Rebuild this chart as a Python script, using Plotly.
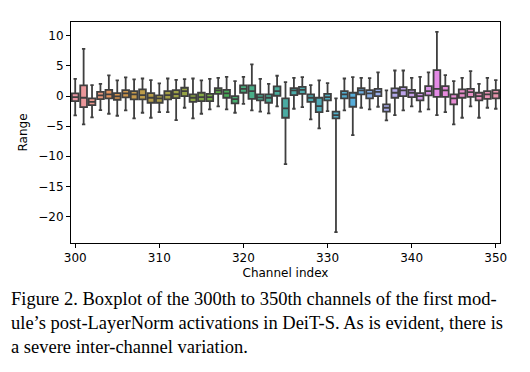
import math
import colorsys
import plotly.graph_objects as go

# ---------------- data ----------------
channels = list(range(300, 351))
upper_whisker = [2.87, 7.84, 1.82, 2.04, 3.42, 2.59, 3.09, 2.76, 2.92, 2.65,
                 2.10, 2.92, 2.70, 2.81, 2.92, 2.59, 2.87, 3.03, 3.20, 2.48,
                 3.20, 5.25, 2.87, 2.04, 3.37, 2.32, 3.03, 3.15, 1.82, 2.59,
                 2.15, -0.39, 2.92, 3.15, 3.03, 2.98, 3.92, 0.93, 4.25, 4.25,
                 3.03, 3.20, 3.92, 10.66, 3.48, 2.48, 3.03, 4.14, 2.04, 3.03,
                 2.65]
q3 = [0.44, 1.76, -0.39, 0.71, 1.04, 0.49, 0.99, 0.82, 1.10, 0.49,
      0.10, 0.82, 0.99, 1.38, 0.27, 0.55, 0.38, 1.32, 1.04, 0.00,
      1.76, 1.76, 0.27, 0.27, 1.60, -0.39, 1.32, 1.54, 0.27, -0.28,
      0.38, -2.60, 0.82, 0.55, 1.32, 0.99, 1.21, -1.39, 1.27, 1.49,
      1.04, 0.49, 1.65, 4.31, 1.65, 0.27, 1.10, 1.21, 0.55, 0.82,
      0.99]
median = [-0.17, -0.28, -0.95, 0.10, 0.27, -0.06, 0.44, 0.27, 0.16, -0.28,
          -0.39, 0.16, 0.33, 0.82, -0.28, -0.17, -0.17, 0.93, 0.44, -0.50,
          1.21, 0.82, -0.23, -0.28, 0.82, -2.05, 0.93, 1.04, -0.28, -1.66,
          -0.17, -3.16, 0.27, -0.28, 0.93, 0.44, 0.71, -1.94, 0.55, 0.93,
          0.55, 0.00, 0.82, 1.20, 0.93, -0.39, 0.44, 0.66, 0.00, 0.27,
          0.44]
q1 = [-0.83, -1.83, -1.50, -0.50, -0.39, -0.61, -0.23, -0.56, -0.56, -1.11,
      -1.11, -0.56, -0.34, 0.00, -0.95, -0.83, -0.83, 0.38, -0.28, -1.22,
      0.55, -0.45, -0.72, -1.11, 0.05, -3.60, 0.16, 0.38, -0.95, -2.66,
      -0.72, -3.71, -0.39, -1.77, 0.27, -0.39, 0.00, -2.60, -0.28, 0.00,
      -0.17, -0.72, 0.11, -0.12, -0.12, -1.39, -0.28, -0.12, -0.72, -0.45,
      -0.39]
lower_whisker = [-3.21, -4.70, -3.54, -2.33, -2.94, -3.27, -2.38, -3.71, -2.77, -3.60,
                 -2.66, -2.66, -3.99, -1.94, -3.71, -2.94, -2.22, -1.72, -2.22, -2.77,
                 -1.28, -2.38, -2.60, -2.88, -1.72, -11.3, -2.11, -1.83, -3.88, -5.37,
                 -2.49, -22.6, -2.38, -6.47, -1.94, -2.22, -1.77, -4.04, -3.16, -2.38,
                 -1.72, -2.60, -2.22, -3.16, -2.66, -4.70, -3.60, -1.72, -3.60, -1.94,
                 -2.11]
x_ticks = [300, 310, 320, 330, 340, 350]
y_ticks = [10, 5, 0, -5, -10, -15, -20]
caption_lines = [
    "Figure 2. Boxplot of the 300th to 350th channels of the first mod-",
    "ule\u2019s post-LayerNorm activations in DeiT-S. As is evident, there is",
    "a severe inter-channel variation.",
]

# ---------------- husl palette (as seaborn) ----------------
_m = [[3.2406, -1.5372, -0.4986], [-0.9689, 1.8758, 0.0415], [0.0557, -0.2040, 1.0570]]
refY, refU, refV = 1.0, 0.19784, 0.46834
lab_e, lab_k = 0.008856, 903.3


def _max_chroma(L, H):
    hrad = math.radians(H)
    sinH, cosH = math.sin(hrad), math.cos(hrad)
    sub1 = (L + 16) ** 3 / 1560896.0
    sub2 = sub1 if sub1 > lab_e else L / lab_k
    result = float("inf")
    for m1, m2, m3 in _m:
        top = (0.99915 * m1 + 1.05122 * m2 + 1.14460 * m3) * sub2
        rbottom = 0.86330 * m3 - 0.17266 * m2
        lbottom = 0.12949 * m3 - 0.38848 * m1
        bottom = (rbottom * sinH + lbottom * cosH) * sub2
        for t in (0.0, 1.0):
            C = L * (top - 1.05122 * t) / (bottom + 0.17266 * sinH * t)
            if 0.0 < C < result:
                result = C
    return result


def _f_inv(t):
    return t ** 3 if t ** 3 > lab_e else (116.0 * t - 16.0) / lab_k


def _from_linear(c):
    return 12.92 * c if c <= 0.0031308 else 1.055 * c ** (1 / 2.4) - 0.055


def husl_to_rgb(H, S, L):
    C = _max_chroma(L, H) / 100.0 * S
    hr = math.radians(H)
    U, V = math.cos(hr) * C, math.sin(hr) * C
    varY = _f_inv((L + 16) / 116.0)
    varU = U / (13.0 * L) + refU
    varV = V / (13.0 * L) + refV
    Y = varY * refY
    X = 0.0 - (9.0 * Y * varU) / ((varU - 4.0) * varV - varU * varV)
    Z = (9.0 * Y - (15.0 * varV * Y) - (varV * X)) / (3.0 * varV)
    rgb = [_from_linear(sum(a * b for a, b in zip(row, (X, Y, Z)))) for row in _m]
    return [min(1, max(0, v)) for v in rgb]


n = len(channels)
colors = []
for i in range(n):
    h = ((i / n) + 0.01) % 1 * 359
    r, g, b = husl_to_rgb(h, 0.9 * 99, 0.7 * 99)
    hh, ll, ss = colorsys.rgb_to_hls(r, g, b)
    r, g, b = colorsys.hls_to_rgb(hh, ll, ss * 0.75)
    colors.append("rgb(%d,%d,%d)" % (round(r * 255), round(g * 255), round(b * 255)))
gray = "rgb(63,63,63)"

# ---------------- figure ----------------
fig = go.Figure()
for i, c in enumerate(channels):
    fig.add_trace(go.Box(
        x=[c], q1=[q1[i]], median=[median[i]], q3=[q3[i]],
        lowerfence=[lower_whisker[i]], upperfence=[upper_whisker[i]],
        width=0.8, whiskerwidth=0.5,
        fillcolor=colors[i], line=dict(color=gray, width=1.8),
        showlegend=False, hoverinfo="skip",
    ))

W, H = 530, 372
L_M, R_M, T_M, B_M = 71, 30, 22, 129
plot_w = W - L_M - R_M
plot_h = H - T_M - B_M

fig.update_layout(
    width=W, height=H,
    margin=dict(l=L_M, r=R_M, t=T_M, b=B_M, pad=0),
    paper_bgcolor="white", plot_bgcolor="white",
    boxmode="overlay",
    font=dict(family="DejaVu Sans", size=12, color="black"),
    xaxis=dict(
        range=[299.5, 350.5], tickvals=x_ticks, ticktext=[str(t) for t in x_ticks],
        showline=True, linecolor="black", linewidth=1, mirror=True,
        ticks="outside", ticklen=4, tickcolor="black", showgrid=False, zeroline=False,
        title=dict(text="Channel index", font=dict(size=12), standoff=4),
    ),
    yaxis=dict(
        range=[-24.4, 12.3], tickvals=y_ticks,
        ticktext=[str(t).replace("-", "\u2212") for t in y_ticks],
        showline=True, linecolor="black", linewidth=1, mirror=True,
        ticks="outside", ticklen=4, tickcolor="black", showgrid=False, zeroline=False,
        title=dict(text="Range", font=dict(size=12), standoff=8),
    ),
)

line_centers = [298.5, 322.5, 346.5]
for txt, yc in zip(caption_lines, line_centers):
    fig.add_annotation(
        text=txt, xref="paper", yref="paper",
        x=(9 - L_M) / plot_w, y=(H - B_M - yc) / plot_h,
        xanchor="left", yanchor="middle", showarrow=False,
        font=dict(family="Liberation Serif", size=18.5, color="black"),
    )

fig.write_html("out.html", config={"displayModeBar": False},
               post_script="document.body.style.margin='0';document.body.style.padding='0';")
